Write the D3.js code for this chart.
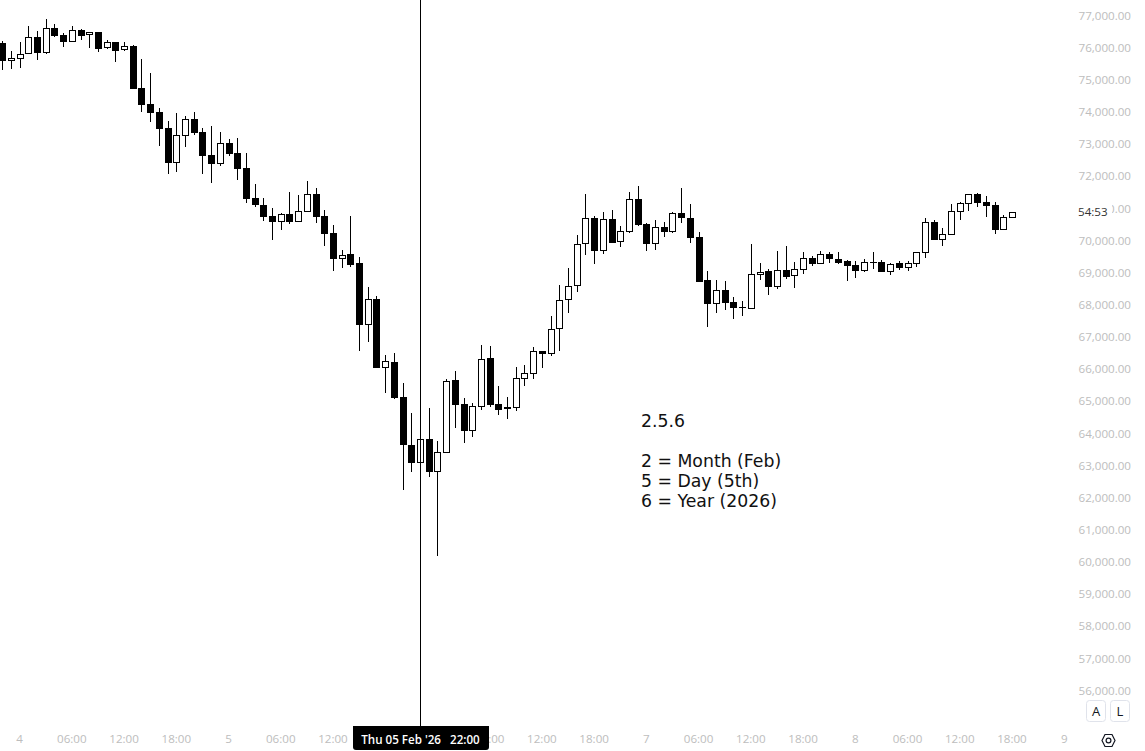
<!DOCTYPE html>
<html><head><meta charset="utf-8">
<script src="https://cdn.jsdelivr.net/npm/d3@7/dist/d3.min.js"></script>
<style>html,body{margin:0;padding:0;background:#fff;overflow:hidden}svg{display:block}</style>
</head><body><svg id="c" width="1145" height="751"></svg>
<script>
const opens=[76140,75590,75660,75810,76330,75840,76610,76390,76190,76550,76400,76490,75990,76180,75940,76050,74740,74250,74000,73500,72420,73260,73780,73380,72660,72390,73030,72720,72260,71320,71100,70760,70590,70820,70590,70900,71450,70760,70230,69430,69580,69300,67380,68180,66040,66220,65130,63640,63090,63820,62810,63400,65660,64910,64080,64830,66340,64910,64820,64800,65700,65860,66560,66480,67240,68140,68580,69880,70700,69680,70670,69960,70270,71290,70510,69900,70420,70270,70860,70700,70110,68770,68030,68460,68090,67930,67880,68940,69050,68560,69080,68900,69090,69460,69280,69580,69420,69360,69240,69060,69330,69330,69030,69300,69150,69280,69620,70580,70030,70180,70900,71150,71450,71200,71100,70330,70710];
const highs=[76210,75900,76180,76670,76520,76890,76740,76460,76670,76580,76480,76490,76240,76180,76180,76080,75650,75210,74120,73720,73970,73870,74000,73500,73560,73380,73160,73190,72720,71760,71320,71010,70860,71510,71420,71850,71630,70950,70480,69710,70760,69490,68550,68270,66440,66500,65570,64630,64790,64790,63760,65690,65940,65100,64950,66750,66720,65470,65130,66060,66130,66690,66560,67650,68620,69140,70170,71450,70760,70890,70950,70450,71510,71700,70540,70640,70580,70890,71630,71140,70260,69050,68770,68740,68240,68120,69890,69300,69110,69670,69830,69330,69640,69520,69670,69640,69640,69390,69360,69420,69640,69390,69300,69360,69360,69640,70700,70640,70390,71140,71200,71440,71480,71380,71200,70790,70880];
const lows=[75300,75340,75370,75810,75620,75800,76330,76020,76190,76240,75990,75860,75960,75550,75900,74710,74000,73690,72940,72070,72130,72910,73280,72070,71790,72320,72630,71880,71170,71040,70610,70020,70330,70510,70590,70900,70540,69830,69050,69140,69180,66560,66840,66030,65260,65070,62240,62800,63020,62640,60180,63400,64170,63700,63890,64730,64820,64570,64450,64700,65470,65690,66030,66410,66560,67740,68400,69550,69270,69580,69920,69800,70230,70450,69670,69700,70110,70230,70540,69920,68710,67310,67740,67840,67560,67650,67880,68770,68300,68490,68800,68520,68960,69210,69270,69300,69270,68740,68830,69020,69110,69020,68930,69080,69050,69180,69460,70020,69830,70180,70640,70920,71040,70730,70200,70330,70710];
const closes=[75590,75670,75790,76320,75840,76600,76360,76180,76540,76360,76480,75960,76170,75900,76040,74710,74220,73970,73470,72410,73270,73770,73340,72630,72380,73020,72690,72220,71290,71100,70730,70580,70820,70580,70910,71440,70730,70200,69420,69540,69240,67370,68170,66030,66240,65100,63640,63080,63820,62800,63410,65620,64880,64070,64840,66300,64880,64730,64760,65710,65870,66550,66470,67240,68140,68580,69880,70690,69670,70660,69920,70290,71280,70480,69890,70410,70260,70850,70700,70080,68710,68030,68450,68060,67900,67900,68950,69010,68550,69070,68860,69100,69450,69270,69570,69420,69300,69210,69050,69320,69300,69020,69260,69140,69290,69630,70570,70020,70190,70910,71160,71440,71170,71070,70330,70720,70880];
const firstHour=-2;
const priceTicks=d3.range(56000,77001,1000);
const timeTickHours=[0,6,12,18,24,30,36,42,48,54,60,66,72,78,84,90,96,102,108,114,120];
const timeTickLabels=["4","06:00","12:00","18:00","5","06:00","12:00","18:00","6","06:00","12:00","18:00","7","06:00","12:00","18:00","8","06:00","12:00","18:00","9"];
const noteLines=["2.5.6","","2 = Month (Feb)","5 = Day (5th)","6 = Year (2026)"];
const crosshairHour=46;
const crosshairLabel="Thu 05 Feb '26   22:00";
const countdown="54:53";
const countdownPrice=71000;

const svg=d3.select("#c");
const x=d3.scaleLinear().domain([-2,118]).range([2.68,1047.28]);
const y=d3.scaleLinear().domain([56000,77000]).range([690.5,15.5]);
const font="'Open Sans', sans-serif";
const gray="#bdbdbd";

const candles=opens.map((o,i)=>({h:firstHour+i,o,hi:highs[i],lo:lows[i],c:closes[i]}));
const g=svg.append("g");
const col=d=>Math.floor(x(d.h));
g.selectAll(".w").data(candles.filter(d=>d.hi>d.lo&&(d.hi>Math.max(d.o,d.c)||d.lo<Math.min(d.o,d.c)))).join("rect")
  .attr("class","w").attr("x",col).attr("width",1)
  .attr("y",d=>Math.round(y(d.hi))).attr("height",d=>Math.round(y(d.lo))-Math.round(y(d.hi)))
  .attr("fill","#000");
g.selectAll(".b").data(candles).join("rect").attr("class","b")
  .attr("x",d=>col(d)-3+(d.c>=d.o?.5:0)).attr("width",d=>d.c>=d.o?6:7)
  .attr("y",d=>Math.round(y(Math.max(d.o,d.c)))+(d.c>=d.o?.5:0))
  .attr("height",d=>Math.max(1,Math.round(y(Math.min(d.o,d.c)))-Math.round(y(Math.max(d.o,d.c)))-(d.c>=d.o?1:0)))
  .attr("fill",d=>d.c>=d.o?"#fff":"#000").attr("stroke",d=>d.c>=d.o?"#000":"none")
  .attr("stroke-width",1).attr("shape-rendering","crispEdges");

// time axis
const ax=svg.append("g").attr("transform","translate(0,726)")
  .call(d3.axisBottom(x).tickValues(timeTickHours).tickSize(0).tickPadding(9).tickFormat((d,i)=>timeTickLabels[i]));
ax.select(".domain").remove();
ax.selectAll("text").attr("fill",gray).attr("font-family",font).attr("font-size",11.6).attr("dx",-1);

// price axis
const ay=svg.append("g").attr("transform","translate(1131,0)")
  .call(d3.axisLeft(y).tickValues(priceTicks).tickSize(0).tickPadding(0).tickFormat(d3.format(",.2f")));
ay.select(".domain").remove();
ay.selectAll("text").attr("fill",gray).attr("font-family",font).attr("font-size",11.6);

// countdown over the price label
const cy=y(countdownPrice);
svg.append("rect").attr("x",1075).attr("y",cy-11).attr("width",37).attr("height",23).attr("fill","#fff");
svg.append("text").attr("x",1078).attr("y",cy+4).attr("dy","0.32em").attr("fill","#333").attr("font-family",font).attr("font-size",11.6).text(countdown);

// crosshair
const cxh=Math.floor(x(crosshairHour));
svg.append("line").attr("x1",cxh+.5).attr("x2",cxh+.5).attr("y1",0).attr("y2",726).attr("stroke","#000").attr("stroke-width",1);
svg.append("path").attr("d","M353,726H489V747a3,3 0 0 1 -3,3H356a3,3 0 0 1 -3,-3Z").attr("fill","#000");
svg.append("text").attr("x",420.5).attr("y",740).attr("dy","0.32em").attr("text-anchor","middle").attr("fill","#fff")
  .attr("font-family",font).attr("font-size",11.6).attr("font-weight",600).style("white-space","pre").text(crosshairLabel);

// note
svg.append("g").selectAll("text").data(noteLines).join("text")
  .attr("x",641).attr("y",(d,i)=>421+i*20).attr("dy","0.35em").attr("fill","#111")
  .attr("font-family","'DejaVu Sans', sans-serif").attr("font-size",17.3).text(d=>d);

// A / L buttons
[["A",1086],["L",1110]].forEach(([t,bx])=>{
  svg.append("rect").attr("x",bx+.5).attr("y",700.5).attr("width",19).attr("height",21).attr("rx",3).attr("fill","#fff").attr("stroke","#e0e3eb");
  svg.append("text").attr("x",bx+10).attr("y",711).attr("dy","0.35em").attr("text-anchor","middle").attr("fill","#131722").attr("font-family",font).attr("font-size",13).text(t);
});
// settings icon
svg.append("path").attr("d","M1102,740.5L1105,734.5H1112L1115,740.5L1112,746.5H1105Z").attr("fill","none").attr("stroke","#131722").attr("stroke-width",1.2);
svg.append("circle").attr("cx",1108.5).attr("cy",740.5).attr("r",2.4).attr("fill","none").attr("stroke","#131722").attr("stroke-width",1.2);
</script></body></html>
